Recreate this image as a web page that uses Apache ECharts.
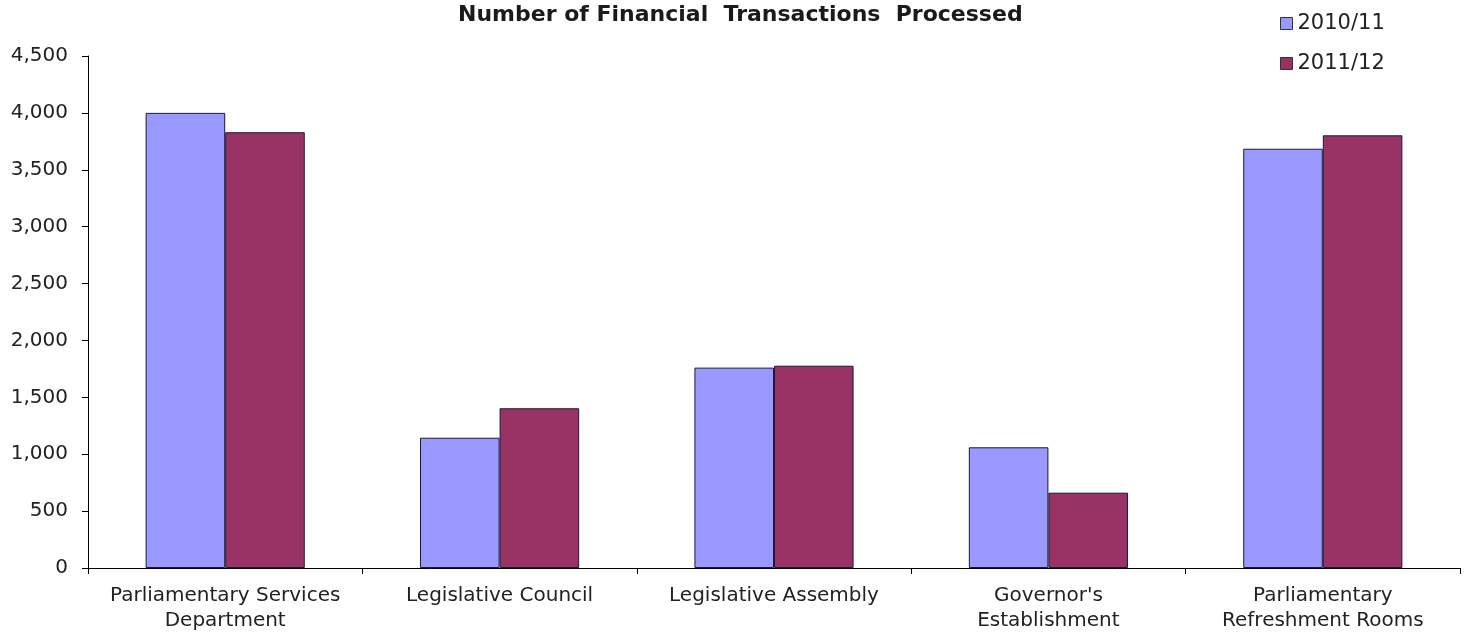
<!DOCTYPE html>
<html>
<head>
<meta charset="utf-8">
<script src="https://cdn.jsdelivr.net/npm/echarts@6/dist/echarts.min.js"></script>
<style>
  html, body { margin: 0; padding: 0; background: #fff; }
  #chart { width: 1467px; height: 634px; }
</style>
</head>
<body>
<div id="chart"></div>
<script>
// Departments and their transaction counts per financial year
const categories = [
  'Parliamentary Services\nDepartment',
  'Legislative Council',
  'Legislative Assembly',
  "Governor's\nEstablishment",
  'Parliamentary\nRefreshment Rooms'
];
const seriesNames = ['2010/11', '2011/12'];
const values2010 = [4000, 1145, 1761, 1061, 3685];
const values2011 = [3830, 1404, 1778, 662, 3803];
const colors = ['#9999FF', '#993366'];

const textColor = '#222';
const font = 'DejaVu Sans';

const chart = echarts.init(document.getElementById('chart'), null, { renderer: 'canvas' });

chart.setOption({
  animation: false,
  backgroundColor: '#fff',
  title: {
    text: 'Number of Financial  Transactions  Processed',
    left: 453,
    top: -1,
    textStyle: { fontFamily: font, fontWeight: 'bold', fontSize: 22, color: '#1a1a1a' }
  },
  legend: {
    orient: 'vertical',
    left: 1275,
    top: 8,
    itemWidth: 12,
    itemHeight: 12,
    itemGap: 19,
    icon: 'rect',
    textStyle: { fontFamily: font, fontSize: 21, color: textColor, padding: [0, 0, 0, 0] },
    data: seriesNames.map((n, i) => ({
      name: n,
      itemStyle: { color: colors[i], borderColor: '#333', borderWidth: 1 }
    }))
  },
  grid: { left: 88, right: 7, top: 56, bottom: 66, containLabel: false },
  xAxis: {
    type: 'category',
    data: categories,
    axisLine: { lineStyle: { color: '#000', width: 1 } },
    axisTick: { show: true, length: 6, lineStyle: { color: '#000' } },
    axisLabel: {
      fontFamily: font, fontSize: 20, color: textColor, margin: 15, lineHeight: 25, interval: 0
    }
  },
  yAxis: {
    type: 'value',
    min: 0,
    max: 4500,
    interval: 500,
    axisLine: { show: true, lineStyle: { color: '#000', width: 1 } },
    axisTick: { show: true, length: 6, lineStyle: { color: '#000' } },
    splitLine: { show: false },
    axisLabel: {
      fontFamily: font, fontSize: 20, color: textColor, margin: 20,
      formatter: v => v.toLocaleString('en-US')
    }
  },
  series: [
    {
      name: seriesNames[0],
      type: 'bar',
      data: values2010,
      barGap: '0%',
      barCategoryGap: '42%',
      itemStyle: { color: colors[0], borderColor: '#1a1a3a', borderWidth: 1 }
    },
    {
      name: seriesNames[1],
      type: 'bar',
      data: values2011,
      barGap: '0%',
      barCategoryGap: '42%',
      itemStyle: { color: colors[1], borderColor: '#1a1a3a', borderWidth: 1 }
    }
  ]
});
</script>
</body>
</html>
